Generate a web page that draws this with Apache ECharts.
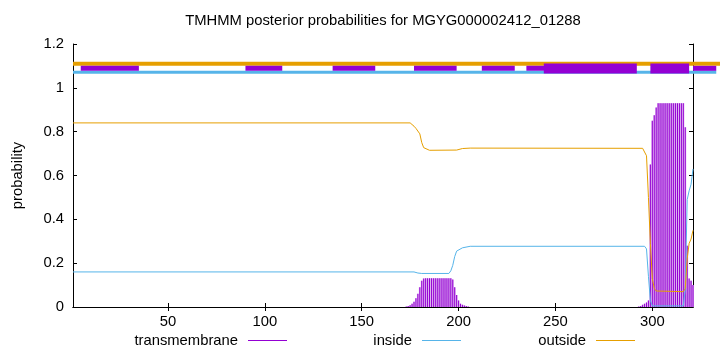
<!DOCTYPE html>
<html><head><meta charset="utf-8">
<script src="https://cdn.jsdelivr.net/npm/echarts@6/dist/echarts.min.js"></script>
<style>html,body{margin:0;padding:0;background:#fff}#c{width:720px;height:352px}</style>
</head><body><div id="c"></div>
<script>
// ---- data ----
const titleText = 'TMHMM posterior probabilities for MGYG000002412_01288';
const seriesNames = ['transmembrane', 'inside', 'outside'];
const xTicks = [50, 100, 150, 200, 250, 300];
const outsideCurve = [[1,0.84],[175,0.84],[176,0.835],[177,0.825],[178,0.815],[179,0.808],[180,0.79],[181,0.75],[182,0.727],[183,0.718],[185,0.715],[199,0.716],[200,0.72],[202,0.723],[206,0.725],[295,0.724],[296,0.72],[297,0.69],[298,0.5],[299,0.29],[300,0.13],[301,0.085],[302,0.073],[303,0.07],[316,0.07],[317,0.085],[318,0.22],[319,0.29],[320,0.31],[321,0.35]];
const insideCurve = [[1,0.16],[177,0.16],[179,0.155],[181,0.153],[195,0.153],[196,0.165],[197,0.19],[198,0.23],[199,0.255],[200,0.262],[202,0.27],[206,0.277],[296,0.277],[297,0.265],[298,0.14],[299,0.03],[300,0.005],[316,0.005],[317,0.08],[318,0.49],[319,0.53],[320,0.56],[321,0.63]];
const tmPosterior = [[173,0.002],[174,0.004],[175,0.008],[176,0.015],[177,0.024],[178,0.04],[179,0.06],[180,0.09],[181,0.12],[182,0.13],[183,0.131],[184,0.131],[185,0.131],[186,0.131],[187,0.131],[188,0.131],[189,0.131],[190,0.131],[191,0.131],[192,0.131],[193,0.131],[194,0.131],[195,0.131],[196,0.131],[197,0.125],[198,0.09],[199,0.055],[200,0.03],[201,0.015],[202,0.01],[203,0.007],[204,0.004],[205,0.002],
  [293,0.002],[294,0.005],[295,0.01],[296,0.015],[297,0.02],[298,0.03],[299,0.65],[300,0.85],[301,0.875],[302,0.91],[303,0.93],[304,0.93],[305,0.93],[306,0.93],[307,0.93],[308,0.93],[309,0.93],[310,0.93],[311,0.93],[312,0.93],[313,0.93],[314,0.93],[315,0.93],[316,0.93],[317,0.82],[318,0.28],[319,0.13],[320,0.12],[321,0.1]];
const topOutside = [[1, 340]];
const topInside = [[1, 333]];
const topTM = [[5,35],[90,109],[135,157],[177,199],[212,229],[235,266],[321,333]];
const topTMWide = [[244,292],[299,319]];

// ---- styling ----
const FONT = "'Liberation Sans', Arial, sans-serif";
const FS = 14.8;
const C_TM = '#9400d3', C_TM_LIGHT = '#d9a8ee', C_IN = '#56b4e9', C_OUT = '#e69f00';

function band(data, yVal, h, color, z) {
  return {
    type: 'custom', data: data, clip: false, silent: true, z: z,
    encode: { x: [0, 1] },
    renderItem: function (params, api) {
      const p0 = api.coord([api.value(0), yVal]);
      const p1 = api.coord([api.value(1), yVal]);
      return { type: 'rect', shape: { x: p0[0], y: p0[1] - h / 2, width: p1[0] - p0[0], height: h }, style: { fill: color } };
    }
  };
}

const chart = echarts.init(document.getElementById('c'), null, { renderer: 'canvas' });
const axisLineStyle = { show: true, lineStyle: { color: '#000', width: 1 } };
const legendBase = {
  orient: 'horizontal', align: 'right', icon: 'rect', itemWidth: 39, itemHeight: 1,
  padding: 0, top: 332, selectedMode: false,
  textStyle: { fontFamily: FONT, fontSize: FS, color: '#000', lineHeight: 17, padding: [0, 5, 0, 0] }
};
chart.setOption({
  animation: false,
  backgroundColor: '#fff',
  title: {
    text: titleText, left: 383, top: 12, textAlign: 'center', padding: 0,
    textStyle: { fontFamily: FONT, fontSize: FS, fontWeight: 'normal', color: '#000', lineHeight: 17 }
  },
  legend: [
    Object.assign({}, legendBase, { data: [seriesNames[0]], right: 433 }),
    Object.assign({}, legendBase, { data: [seriesNames[1]], right: 259 }),
    Object.assign({}, legendBase, { data: [seriesNames[2]], right: 85 })
  ],
  grid: { left: 73, right: 27, top: 44, bottom: 45, containLabel: false },
  xAxis: [
    {
      type: 'value', min: 1, max: 321, position: 'bottom',
      axisLine: axisLineStyle, splitLine: { show: false },
      axisTick: { show: true, inside: true, length: 4, customValues: xTicks, lineStyle: { color: '#000' } },
      axisLabel: { customValues: xTicks, margin: 7, fontFamily: FONT, fontSize: FS, color: '#000' }
    },
    {
      type: 'value', min: 1, max: 321, position: 'top',
      axisLine: axisLineStyle, splitLine: { show: false },
      axisTick: { show: true, inside: true, length: 4, customValues: xTicks, lineStyle: { color: '#000' } },
      axisLabel: { show: false }
    }
  ],
  yAxis: [
    {
      type: 'value', min: 0, max: 1.2, interval: 0.2, position: 'left',
      name: 'probability', nameLocation: 'middle', nameGap: 47,
      nameTextStyle: { fontFamily: FONT, fontSize: FS, color: '#000', lineHeight: 17 },
      axisLine: axisLineStyle, splitLine: { show: false },
      axisTick: { show: true, inside: true, length: 4, lineStyle: { color: '#000' } },
      axisLabel: { margin: 9, fontFamily: FONT, fontSize: FS, color: '#000' }
    },
    {
      type: 'value', min: 0, max: 1.2, interval: 0.2, position: 'right',
      axisLine: axisLineStyle, splitLine: { show: false },
      axisTick: { show: true, inside: true, length: 4, lineStyle: { color: '#000' } },
      axisLabel: { show: false }
    }
  ],
  series: [
    {
      // light halo of each impulse (antialiasing look of the reference)
      type: 'custom', data: tmPosterior, silent: true, z: 1,
      encode: { x: 0, y: 1 },
      renderItem: function (params, api) {
        const top = api.coord([api.value(0), api.value(1)]);
        const base = api.coord([api.value(0), 0]);
        const w = api.size([1, 0])[0];
        return { type: 'rect', shape: { x: top[0] - w / 2, y: top[1], width: w, height: base[1] - top[1] }, style: { fill: C_TM_LIGHT } };
      }
    },
    {
      name: seriesNames[0], type: 'bar', data: tmPosterior, barWidth: 1, color: C_TM,
      itemStyle: { color: C_TM }, z: 2, silent: true
    },
    {
      name: seriesNames[1], type: 'line', data: insideCurve, showSymbol: false, symbol: 'none', color: C_IN,
      itemStyle: { color: C_IN }, lineStyle: { color: C_IN, width: 1 }, z: 3, silent: true
    },
    {
      name: seriesNames[2], type: 'line', data: outsideCurve, showSymbol: false, symbol: 'none', color: C_OUT,
      itemStyle: { color: C_OUT }, lineStyle: { color: C_OUT, width: 1 }, z: 3, silent: true
    },
    band(topOutside, 1.11, 4, C_OUT, 4),
    band(topInside, 1.071, 3, C_IN, 4),
    band(topTM, 1.089, 5, C_TM, 5),
    band(topTMWide, 1.088, 10, C_TM, 5)
  ]
});
</script>
</body></html>
